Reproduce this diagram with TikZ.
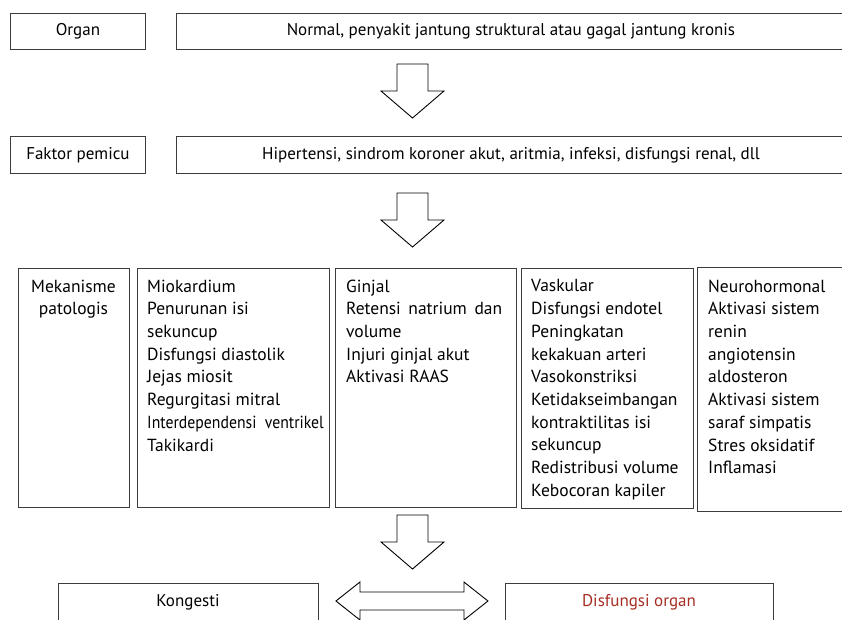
\documentclass[tikz,border=0pt]{standalone}
\usepackage{fontspec}
\usepackage{graphicx}
\setmainfont{PT Sans}
\usetikzlibrary{positioning, calc}
\definecolor{cLine}{RGB}{60,60,60}
\definecolor{cRed}{RGB}{165,45,35}
\tikzset{
	box/.style     ={rectangle, draw=cLine, line width=0.9pt, inner sep=0pt, anchor=north west},
	toptext/.style ={font=\fontsize{17}{20}\selectfont},
	coltext/.style ={anchor=north west, inner sep=0pt, align=left, font=\fontsize{17.5}{22.7}\selectfont},
	% hollow block arrows
	blockarrow/.style={draw=black, line width=0.9pt, fill=white, line join=miter},
	downarrow/.pic ={\draw[blockarrow] (-15.5,0) -- (-15.5,27) -- (-31.5,27) -- (0,54) -- (31.5,27) -- (15.5,27) -- (15.5,0) -- cycle;},
	twoarrow/.pic  ={\draw[blockarrow] (-76,0) -- (-52,-19) -- (-52,-9) -- (52,-9) -- (52,-19) -- (76,0) -- (52,19) -- (52,9) -- (-52,9) -- (-52,19) -- cycle;},
}

\begin{document}
\begin{tikzpicture}[x=1pt, y=-1pt]
	\useasboundingbox (0,0) rectangle (842,619);
	\clip (0,0) rectangle (842,619);
	% top rows
	\node[box, toptext, minimum width=135pt, minimum height=36pt] (organ) at (10,13) {Organ};
	\node[box, toptext, minimum width=669pt, minimum height=36pt] (kondisi) at (176,13) {Normal, penyakit jantung struktural atau gagal jantung kronis};
	\pic (arrA) at (412.5,64) {downarrow};
	\node[box, toptext, minimum width=135pt, minimum height=37pt] (faktor) at (10,136) {Faktor pemicu};
	\node[box, toptext, minimum width=669pt, minimum height=37pt] (pemicu) at (176,136) {Hipertensi, sindrom koroner akut, aritmia, infeksi, disfungsi renal, dll};
	\pic (arrB) at (412.5,193) {downarrow};
	% mechanism columns
	\node[box, minimum width=111pt, minimum height=239pt] (mekanisme) at (18,268) {};
	\node[box, minimum width=192pt, minimum height=239pt] (miokard) at (137,268) {};
	\node[box, minimum width=181pt, minimum height=239pt] (ginjal) at (335,268) {};
	\node[box, minimum width=172pt, minimum height=240pt] (vaskular) at (521,268) {};
	\node[box, minimum width=150pt, minimum height=244pt] (neuro) at (697,267) {};
	\node[coltext, anchor=north, align=center] (mektxt) at (73.5,279.5) {Mekanisme\\patologis};
	\node[coltext] (miotxt) at (147,279.5) {Miokardium\\Penurunan isi\\sekuncup\\Disfungsi diastolik\\Jejas miosit\\Regurgitasi mitral\\\scalebox{0.9}[1]{Interdependensi\ \ ventrikel}\\Takikardi};
	\node[coltext] (ginjaltxt) at (346,279.5) {Ginjal\\\makebox[156pt][s]{Retensi natrium dan}\\volume\\Injuri ginjal akut\\Aktivasi RAAS};
	\node[coltext] (vaskulartxt) at (531,279.5) {Vaskular\\Disfungsi endotel\\Peningkatan\\kekakuan arteri\\Vasokonstriksi\\Ketidakseimbangan\\kontraktilitas isi\\sekuncup\\Redistribusi volume\\Kebocoran kapiler};
	\node[coltext] (neurotxt) at (708,279.5) {Neurohormonal\\Aktivasi sistem\\renin\\angiotensin\\aldosteron\\Aktivasi sistem\\saraf simpatis\\Stres oksidatif\\Inflamasi};
	\pic (arrC) at (412.5,515) {downarrow};
	% outcome
	\node[box, minimum width=260pt, minimum height=60pt] (kongesti) at (58,583) {};
	\node[box, minimum width=268pt, minimum height=60pt] (disfungsi) at (505,583) {};
	\node[toptext] (kongestitxt) at (188,602) {Kongesti};
	\node[toptext, text=cRed] (disfungsitxt) at (639,602) {Disfungsi organ};
	\pic (arrD) at ($(kongesti.north east)!0.5!(disfungsi.north west)+(0,18)$) {twoarrow};
\end{tikzpicture}
\end{document}
